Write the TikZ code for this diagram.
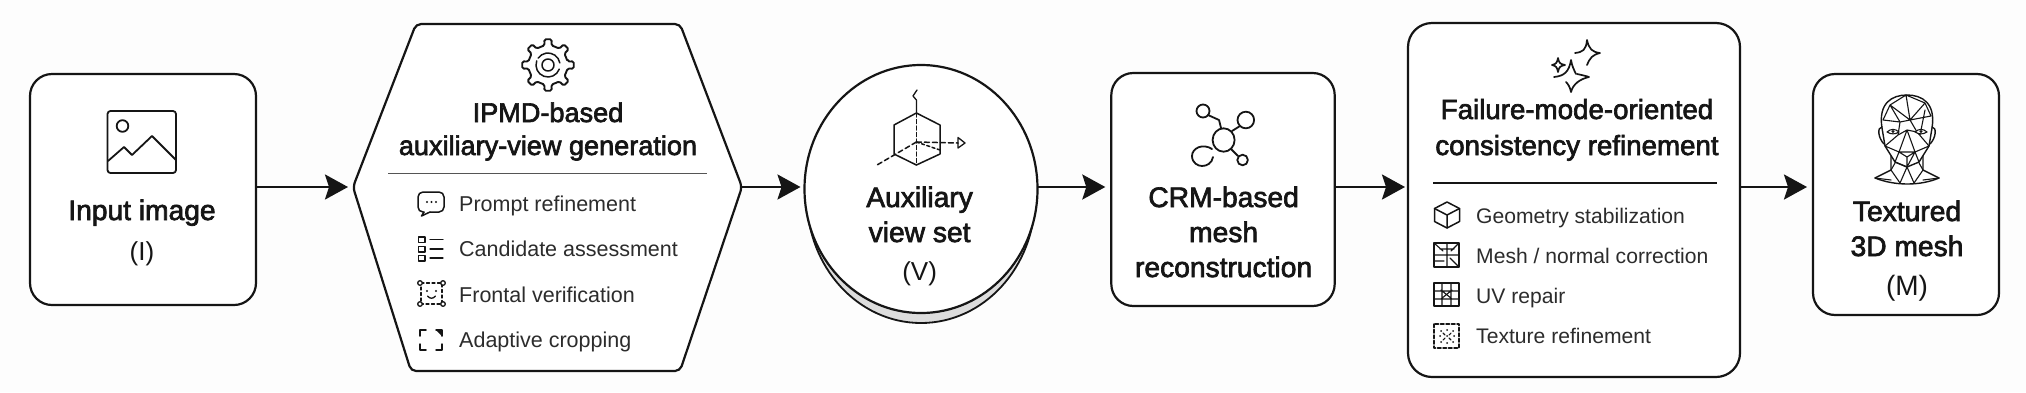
\documentclass[tikz,border=0pt]{standalone}
\usepackage{fontspec}
\usetikzlibrary{arrows.meta,shapes.geometric,calc}
\setmainfont{Liberation Sans}
\newfontfamily\headfont[FakeBold=2.4]{Liberation Sans}
\definecolor{ink}{HTML}{151515}
\definecolor{rulegrey}{HTML}{555555}
\definecolor{paper}{HTML}{FDFDFD}
\definecolor{stackgrey}{HTML}{DCDCDC}
\tikzset{
  box/.style={draw=ink,fill=white,line width=2.2pt,rounded corners=#1,inner sep=0pt,outer sep=0pt},
  box/.default=22pt,
  frame/.style={inner sep=0pt,outer sep=0pt},
  head/.style={font=\headfont\fontsize{27.1}{32}\selectfont,text=ink,anchor=base,inner sep=0pt},
  headwide/.style={font=\headfont\fontsize{28.2}{32}\selectfont,text=ink,anchor=base,inner sep=0pt},
  sub/.style={font=\fontsize{26}{30}\selectfont,text=ink,anchor=base,inner sep=0pt},
  item/.style={font=\fontsize{21.5}{26}\selectfont,text=ink!90,anchor=base west,inner sep=0pt},
  itemb/.style={font=\fontsize{21.1}{26}\selectfont,text=ink!90,anchor=base west,inner sep=0pt},
  flow/.style={draw=ink,line width=2.5pt,-{Stealth[length=23pt,width=25pt,inset=4pt]}},
  glyph/.style={draw=ink,line width=1.5pt,line cap=round,line join=round},
  fine/.style={draw=ink,line width=1.1pt,line cap=round,line join=round},
  split/.style={draw=rulegrey,line width=1.6pt},
}
\begin{document}
\begin{tikzpicture}[x=1pt,y=-1pt]
\path[use as bounding box,fill=paper] (0,0) rectangle (2026,392);
\coordinate (axis) at (0,187);

% ---- input image ----
\node[box,minimum width=226pt,minimum height=231pt] (input) at (143,189.5) {};
\draw[glyph,line width=1.8pt,rounded corners=3pt] (107.5,111) rectangle (176,173);
\draw[glyph,line width=1.8pt] (122.5,126) circle (5.8);
\draw[glyph,line width=1.8pt] (108,161) -- (124,147) -- (132,155) -- (152,136) -- (176,160);
\node[headwide] (inputname) at (142,220) {Input image};
\node[sub] (inputsym) at (142,260) {(I)};

% ---- auxiliary-view generation ----
\node[frame,minimum width=389pt,minimum height=347pt] (gen) at (547.5,187) {};
\draw[box,rounded corners=5pt] (gen.west) -- (416,24) -- (680,24) -- (gen.east) -- (680,371) -- (411,371) -- cycle;
\draw[glyph,line width=1.9pt,rounded corners=1.5pt]
  ($(548,65)+(-10:20)$)
  \foreach \a in {0,45,...,315} {
    -- ($(548,65)+(\a-10:20)$) -- ($(548,65)+(\a-8:26)$) -- ($(548,65)+(\a+8:26)$) -- ($(548,65)+(\a+10:20)$)
  } -- cycle;
\draw[glyph] (548,65) circle (6);
\draw[glyph] ($(548,65)+(20:12)$) arc (20:200:12);
\draw[glyph] ($(548,65)+(215:12)$) arc (215:350:12);
\node[head] (gentop) at (548,122) {IPMD-based};
\node[head] (genbot) at (548,155) {auxiliary-view generation};
\draw[split] (388,173.5) -- (707,173.5);

\draw[glyph,rounded corners=5pt] (424,212) -- (418,212) -- (418,192) -- (444,192) -- (444,212) -- (430,212);
\draw[glyph] (424,212) -- (421.5,216) -- (430,212);
\foreach \x in {427,431.5,436} \fill[ink] (\x,202) circle (1.2);
\node[item] (i1) at (459,211) {Prompt refinement};

\foreach \y in {237,246.5,255.5} {
  \draw[glyph,line width=1.3pt] (418.5,\y) rectangle (425,\y+5.5);
  \draw[glyph,line width=1.3pt] (430,\y+2.5) -- (443,\y+2.5);
}
\node[item] (i2) at (459,256) {Candidate assessment};

\draw[glyph,line width=1.3pt,dash pattern=on 3pt off 2.5pt] (421,283) -- (442,283) -- (442,304) -- (421,304) -- cycle;
\foreach \x/\y in {420/283,443/283,420/304,443/304} \draw[glyph,line width=1.3pt,fill=white] (\x,\y) circle (2.3);
\fill[ink] (427,291) circle (1.2) (436,291) circle (1.2);
\draw[glyph,line width=1.3pt] (427.5,296) .. controls (430,299) and (433,299) .. (435.5,296);
\node[item] (i3) at (459,302) {Frontal verification};

\draw[glyph] (420,336) -- (420,330) -- (426,330);
\draw[glyph] (436,330) -- (442,330) -- (442,336);
\draw[glyph] (420,344) -- (420,350) -- (426,350);
\draw[glyph] (436,350) -- (442,350) -- (442,344);
\fill[ink] (436,330) -- (442,330) -- (442,336) -- cycle;
\node[item] (i4) at (459,347) {Adaptive cropping};

% ---- auxiliary view set ----
\node[ellipse,draw=ink,fill=stackgrey,line width=1.8pt,minimum width=228pt,minimum height=250pt,inner sep=0pt] (viewback) at (921,198) {};
\node[ellipse,draw=ink,fill=white,line width=2.2pt,minimum width=233pt,minimum height=248pt,inner sep=0pt,outer sep=0pt] (view) at (921,189) {};
\draw[glyph] (916.4,113) -- (940,125) -- (940,154) -- (916.4,165) -- (894,154) -- (894,125) -- cycle;
\draw[glyph,dash pattern=on 4pt off 2.5pt] (916.4,113) -- (916.4,165);
\draw[glyph,line width=1.3pt] (916.4,113) -- (916.4,100) -- (913,96) -- (917,90);
\draw[glyph,dash pattern=on 5pt off 3pt] (916.4,142) -- (958,143);
\draw[glyph,dash pattern=on 3pt off 2.5pt] (916.4,142) -- (940,150);
\draw[glyph,line width=1.3pt] (958,137.5) -- (965,143) -- (958,148) -- cycle;
\draw[glyph,dash pattern=on 5pt off 3pt] (916.4,142) -- (877,165);
\node[headwide] (viewa) at (919.6,207) {Auxiliary};
\node[headwide] (viewb) at (919.6,242) {view set};
\node[sub] (viewc) at (919.6,280) {(V)};

% ---- CRM-based reconstruction ----
\node[box,minimum width=223.4pt,minimum height=233pt] (crm) at (1223,189.5) {};
\draw[glyph,line width=1.8pt] (1223.6,140) ellipse (11 and 11.7);
\draw[glyph,line width=1.8pt] (1203,111) circle (6.5);
\draw[glyph,line width=1.8pt] (1245.8,120) circle (8.3);
\draw[glyph,line width=1.8pt] (1242.6,160) circle (5.3);
\draw[glyph,line width=1.8pt] (1212,149) .. controls (1203,143) and (1192,148) .. (1192,156) .. controls (1192,163) and (1198,166) .. (1202,166) .. controls (1207,166) and (1212,163) .. (1213,157);
\draw[glyph,line width=1.8pt] (1208,115) -- (1219,120) -- (1221,128);
\draw[glyph,line width=1.8pt] (1232,131) -- (1240,126);
\draw[glyph,line width=1.8pt] (1231,149) -- (1238,156);
\node[headwide] (crma) at (1223.6,207) {CRM-based};
\node[headwide] (crmb) at (1223.6,242) {mesh};
\node[headwide] (crmc) at (1223.6,277) {reconstruction};

% ---- failure-mode-oriented refinement ----
\node[box=24pt,minimum width=332pt,minimum height=354pt] (fix) at (1574,200) {};
\draw[glyph,line width=1.7pt]
  (1575,53) .. controls (1583,52) and (1586,50) .. (1587,40)
  .. controls (1589,49) and (1592,52) .. (1600,53)
  .. controls (1592,55) and (1590,58) .. (1587,65);
\draw[glyph,line width=1.7pt]
  (1554,77) .. controls (1564,76) and (1569,72) .. (1571,60)
  .. controls (1572,66) and (1574,70) .. (1576,74);
\draw[glyph,line width=1.7pt]
  (1577,74) .. controls (1582,75) and (1586,76) .. (1589,77)
  .. controls (1580,79) and (1573,84) .. (1571,92)
  .. controls (1570,87) and (1568,84) .. (1566,82);
\draw[glyph,line width=1.7pt]
  (1558,58) .. controls (1559,63) and (1560,64) .. (1565,65)
  .. controls (1560,66) and (1559,67) .. (1558,72)
  .. controls (1557,67) and (1556,66) .. (1552,65)
  .. controls (1556,64) and (1557,63) .. (1558,58) -- cycle;
\node[headwide,font=\headfont\fontsize{27.7}{32}\selectfont] (fixtop) at (1577,119) {Failure-mode-oriented};
\node[headwide,font=\headfont\fontsize{27.7}{32}\selectfont] (fixbot) at (1577,155) {consistency refinement};
\draw[ink,line width=1.6pt] (1433,183) -- (1717,183);

\draw[glyph] (1447,202) -- (1459.5,208.5) -- (1459.5,221.5) -- (1447,228) -- (1434.5,221.5) -- (1434.5,208.5) -- cycle;
\draw[glyph] (1434.5,208.5) -- (1447,215) -- (1459.5,208.5) (1447,215) -- (1447,228);
\node[itemb] (j1) at (1476,223) {Geometry stabilization};

\draw[glyph,line width=1.7pt] (1434,243) rectangle (1459,267);
\draw[glyph,line width=1.1pt] (1434,255) -- (1459,255) (1447,243) -- (1447,267)
  (1434,243) -- (1443,251) (1459,243) -- (1451,251) (1434,261) -- (1444,261) (1459,267) -- (1450,258) (1440,249) -- (1454,249);
\node[itemb] (j2) at (1476,263) {Mesh / normal correction};

\draw[glyph,line width=1.7pt] (1434,283) rectangle (1459,306);
\draw[glyph,line width=1.1pt] (1442,283) -- (1442,306) (1451,283) -- (1451,306) (1434,291) -- (1459,291) (1434,299) -- (1459,299)
  (1441,299) -- (1452,290) (1441,290) -- (1452,299);
\node[itemb] (j3) at (1476,303) {UV repair};

\draw[glyph,line width=1.5pt,dash pattern=on 3.5pt off 2pt] (1434,324) rectangle (1459,348);
\foreach \x/\y in {1441/331,1447/330,1453/331,1440/336,1447/336,1454/336,1441/342,1447/343,1453/342}
  \fill[ink] (\x,\y) circle (1);
\draw[fine] (1443,333) -- (1445,335) (1451,333) -- (1449,335) (1443,340) -- (1445,338) (1451,340) -- (1449,338);
\node[itemb] (j4) at (1476,343) {Texture refinement};

% ---- textured mesh ----
\node[box,minimum width=186pt,minimum height=241pt] (mesh) at (1906,194.5) {};
% head wireframe
\draw[fine,line width=1.4pt] (1882,128) .. controls (1878,103) and (1892,95) .. (1907,95)
  .. controls (1922,95) and (1936,103) .. (1932,128)
  -- (1929,146) -- (1919,162) -- (1907,167) -- (1895,162) -- (1885,146) -- cycle;
\draw[fine,line width=1.4pt] (1882,127) .. controls (1877,127) and (1878,138) .. (1884,144);
\draw[fine,line width=1.4pt] (1932,127) .. controls (1937,127) and (1936,138) .. (1930,144);
\draw[fine,line width=1.4pt] (1891,156) -- (1891,170) -- (1875,178) .. controls (1895,186) and (1920,186) .. (1939,178) -- (1923,170) -- (1923,156);
\draw[fine] (1890,105) -- (1906,95) -- (1925,103) -- (1910,120) -- (1890,105) -- (1883,120)
  (1890,105) -- (1900,122) -- (1883,120)
  (1906,95) -- (1910,120) -- (1931,116) -- (1925,103)
  (1900,122) -- (1910,120) -- (1917,132)
  (1925,110) -- (1920,135)
  (1900,122) -- (1898,135) -- (1907,130) -- (1917,132)
  (1907,130) -- (1899,152) -- (1915,152) -- (1907,130)
  (1898,135) -- (1885,146) -- (1899,152) -- (1895,162) -- (1907,167) -- (1915,152) -- (1919,162)
  (1917,132) -- (1929,146) -- (1915,152)
  (1899,152) -- (1907,157) -- (1915,152)
  (1907,157) -- (1907,167)
  (1891,170) -- (1900,183) -- (1907,167) -- (1914,183) -- (1923,170)
  (1895,163) -- (1891,170) (1919,163) -- (1923,170)
  (1875,178) -- (1891,180) (1939,178) -- (1923,180);
\foreach \x in {1893,1921} {
  \draw[fine,fill=white] (\x-6,132) .. controls (\x-2,128.5) and (\x+2,128.5) .. (\x+6,132) .. controls (\x+2,134.5) and (\x-2,134.5) .. (\x-6,132) -- cycle;
  \fill[ink] (\x,131.5) circle (1.7);
}
\node[headwide] (mesha) at (1907,221) {Textured};
\node[headwide] (meshb) at (1907,256) {3D mesh};
\node[sub,font=\fontsize{28}{30}\selectfont] (meshc) at (1907,295) {(M)};

% ---- flow between the stages ----
\draw[flow,shorten >=5pt] (input.east |- axis) -- (gen.west |- axis);
\draw[flow,shorten >=4pt] (gen.east |- axis) -- (view.west |- axis);
\draw[flow,shorten >=6pt] (view.east |- axis) -- (crm.west |- axis);
\draw[flow,shorten >=3pt] (crm.east |- axis) -- (fix.west |- axis);
\draw[flow,shorten >=6pt] (fix.east |- axis) -- (mesh.west |- axis);
\end{tikzpicture}
\end{document}
